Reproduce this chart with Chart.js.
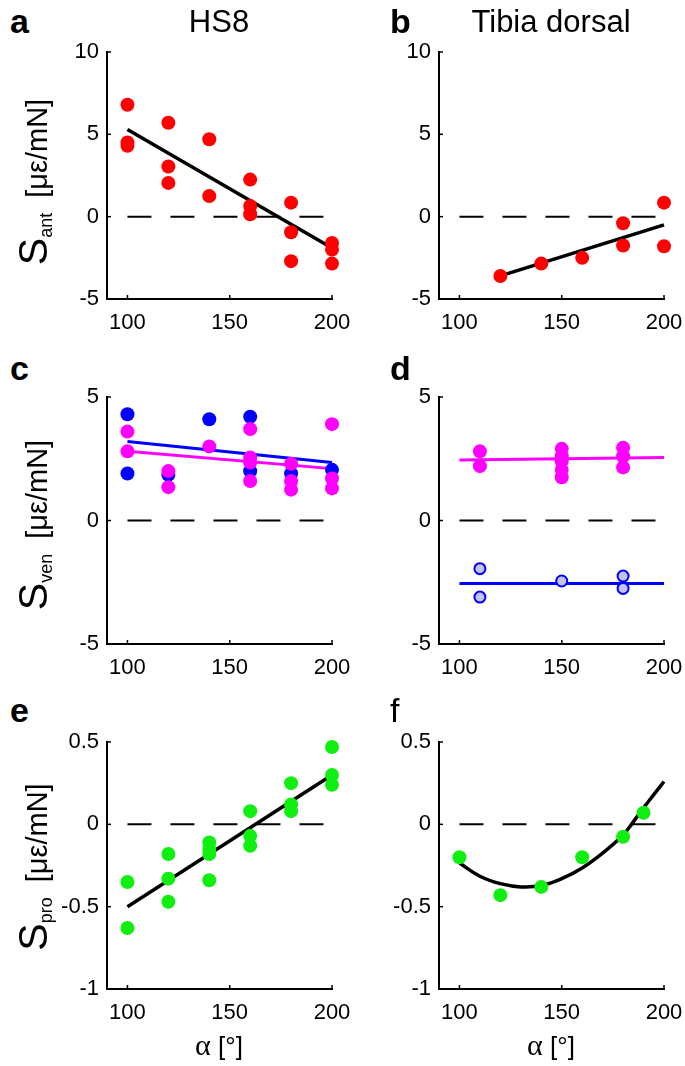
<!DOCTYPE html>
<html>
<head>
<meta charset="utf-8">
<script src="https://cdn.jsdelivr.net/npm/chart.js@4.4.0/dist/chart.umd.min.js"></script>
<style>
  html, body { margin: 0; padding: 0; background: #fff; }
  #fig { position: relative; width: 685px; height: 1066px; overflow: hidden;
         font-family: "Liberation Sans", Arial, Helvetica, sans-serif; color: #000; }
  #fig canvas { position: absolute; }
  .lbl { position: absolute; white-space: nowrap; line-height: 1; }
  .letter { font-weight: bold; font-size: 34px; }
  .ttl { font-size: 31px; width: 300px; text-align: center; }
  .ylab { position: absolute; width: 240px; height: 50px; line-height: 50px; text-align: center;
          white-space: nowrap; transform: rotate(-90deg); font-size: 29px; }
  .ylab .S { font-size: 41px; }
  .ylab .sb { font-size: 18px; vertical-align: -5px; margin-right: 15px; }
  .xlab { font-size: 26px; width: 200px; text-align: center; }
  .xlab .al { font-family: "Liberation Serif", "DejaVu Serif", serif; font-size: 30px; }
</style>
</head>
<body>
<div id="fig"></div>
<script>
// ---- data ----
const xTicks = [100, 150, 200];
const zeroX = [100, 200];
const zeroY = [0, 0];

// a: HS8, S_ant
const aX = [100, 100, 100, 120, 120, 120, 140, 140, 160, 160, 160, 180, 180, 180, 200, 200, 200];
const aY = [6.8, 4.5, 4.3, 5.7, 3.05, 2.05, 4.7, 1.25, 2.25, 0.65, 0.15, 0.85, -0.95, -2.7, -1.6, -2.0, -2.85];
const aFitX = [100, 200];
const aFitY = [5.3, -1.9];

// b: Tibia dorsal, S_ant
const bX = [120, 140, 160, 180, 180, 200, 200];
const bY = [-3.6, -2.85, -2.5, -0.4, -1.75, 0.85, -1.8];
const bFitX = [120, 200];
const bFitY = [-3.6, -0.5];

// c: HS8, S_ven (blue / magenta)
const cBlueX = [100, 100, 120, 140, 160, 160, 180, 200];
const cBlueY = [4.3, 1.9, 1.85, 4.1, 4.2, 2.0, 1.9, 2.05];
const cMagX = [100, 100, 120, 120, 140, 160, 160, 160, 160, 180, 180, 180, 200, 200, 200];
const cMagY = [3.6, 2.8, 2.0, 1.35, 3.0, 3.7, 2.55, 2.35, 1.6, 2.3, 1.6, 1.25, 3.9, 1.7, 1.3];
const cBlueFitY = [3.2, 2.35];
const cMagFitY = [2.8, 2.1];

// d: Tibia dorsal, S_ven
const dMagX = [110, 110, 150, 150, 150, 150, 150, 180, 180, 180];
const dMagY = [2.8, 2.2, 2.9, 2.6, 2.4, 2.05, 1.75, 2.95, 2.6, 2.15];
const dBlueX = [110, 110, 150, 180, 180];
const dBlueY = [-1.95, -3.1, -2.45, -2.25, -2.75];
const dMagFitY = [2.45, 2.55];
const dBlueFitY = [-2.55, -2.55];
const fitX = [100, 200];

// e: HS8, S_pro
const eX = [100, 100, 120, 120, 120, 140, 140, 140, 140, 160, 160, 160, 180, 180, 180, 200, 200, 200];
const eY = [-0.35, -0.63, -0.18, -0.33, -0.47, -0.11, -0.15, -0.18, -0.34, 0.08, -0.07, -0.13, 0.25, 0.12, 0.08, 0.47, 0.3, 0.24];
const eFitY = [-0.5, 0.3];

// f: Tibia dorsal, S_pro
const fX = [100, 120, 140, 160, 180, 190];
const fY = [-0.2, -0.43, -0.38, -0.2, -0.075, 0.07];
const fCurveX = [100, 110, 120, 130, 140, 150, 160, 170, 180, 185, 190, 195, 200];
const fCurveY = [-0.235, -0.315, -0.36, -0.38, -0.372, -0.33, -0.265, -0.175, -0.065, 0.015, 0.1, 0.18, 0.26];

// ---- styling ----
const FONT = '"Liberation Sans", Arial, Helvetica, sans-serif';
const RED = "#ff0000", BLUE = "#0000ff", MAG = "#ff00ff", GREEN = "#11ee11", LAV = "#c4c4f2";
const fig = document.getElementById("fig");
Chart.defaults.font.family = FONT;
Chart.defaults.color = "#000";

const pts = (xs, ys) => xs.map((x, i) => ({ x, y: ys[i] }));
const dots = (xs, ys, color, order) => ({ data: pts(xs, ys), backgroundColor: color, borderWidth: 0, pointRadius: 7, order, clip: false });
const line = (xs, ys, color, w, order) => ({ data: pts(xs, ys), showLine: true, borderColor: color, borderWidth: w, pointRadius: 0, order, clip: false });
const zero = () => ({ data: pts(zeroX, zeroY), showLine: true, borderColor: "#000", borderWidth: 2, borderDash: [24, 19], pointRadius: 0, order: 5 });

// inward tick marks, matlab style
const inTicks = {
  id: "inTicks",
  afterDraw(chart) {
    const { ctx, chartArea: a, scales: { x, y } } = chart;
    ctx.save();
    ctx.strokeStyle = "#000";
    ctx.lineWidth = 1.5;
    x.ticks.forEach((t) => {
      const px = x.getPixelForValue(t.value);
      ctx.beginPath(); ctx.moveTo(px, a.bottom); ctx.lineTo(px, a.bottom - 4); ctx.stroke();
    });
    y.ticks.forEach((t) => {
      const py = y.getPixelForValue(t.value);
      ctx.beginPath(); ctx.moveTo(a.left, py); ctx.lineTo(a.left + 4, py); ctx.stroke();
    });
    ctx.restore();
  },
};

const L = 60, T = 24, R = 32, B = 45, PW = 225, PH = 247;

function panel(left, top, ymin, ymax, step, datasets) {
  const cv = document.createElement("canvas");
  const W = L + PW + R, H = T + PH + B;
  cv.width = W; cv.height = H;
  cv.style.left = left - L + "px"; cv.style.top = top - T + "px";
  cv.style.width = W + "px"; cv.style.height = H + "px";
  fig.appendChild(cv);
  new Chart(cv, {
    type: "scatter",
    data: { datasets },
    options: {
      responsive: false, animation: false, devicePixelRatio: 1, events: [],
      layout: { padding: { top: T, right: R, left: 0, bottom: 0 } },
      plugins: { legend: { display: false }, tooltip: { enabled: false } },
      scales: {
        x: {
          type: "linear", min: 90, max: 200,
          afterBuildTicks: (s) => { s.ticks = xTicks.map((v) => ({ value: v })); },
          afterFit: (s) => { s.height = B; },
          grid: { display: false },
          border: { display: true, color: "#000", width: 2 },
          ticks: { font: { size: 22 }, padding: 3, maxRotation: 0, callback: (v) => String(v) },
        },
        y: {
          min: ymin, max: ymax,
          afterFit: (s) => { s.width = L; },
          grid: { display: false },
          border: { display: true, color: "#000", width: 2 },
          ticks: { font: { size: 22 }, padding: 0, stepSize: step, callback: (v) => String(v) },
        },
      },
    },
    plugins: [inTicks],
  });
}

function text(cls, html, left, top) {
  const d = document.createElement("div");
  d.className = "lbl " + cls;
  d.innerHTML = html;
  d.style.left = left + "px"; d.style.top = top + "px";
  fig.appendChild(d);
  return d;
}

function ylab(cx, cy, sub) {
  const d = document.createElement("div");
  d.className = "ylab";
  d.innerHTML = `<span class="S">S</span><span class="sb">${sub}</span><span>[με/mN]</span>`;
  d.style.left = cx - 120 + "px"; d.style.top = cy - 25 + "px";
  fig.appendChild(d);
}

// ---- panels ----
panel(107, 52, -5, 10, 5, [
  dots(aX, aY, RED, 0),
  line(aFitX, aFitY, "#000", 3.5, 1),
  zero(),
]);
panel(439, 52, -5, 10, 5, [
  dots(bX, bY, RED, 0),
  line(bFitX, bFitY, "#000", 3.5, 1),
  zero(),
]);
panel(107, 397, -5, 5, 5, [
  dots(cMagX, cMagY, MAG, 0),
  dots(cBlueX, cBlueY, BLUE, 1),
  line(fitX, cMagFitY, MAG, 3, 2),
  line(fitX, cBlueFitY, BLUE, 3, 3),
  zero(),
]);
panel(439, 397, -5, 5, 5, [
  dots(dMagX, dMagY, MAG, 0),
  { data: pts(dBlueX, dBlueY), backgroundColor: LAV, borderColor: BLUE, borderWidth: 2, pointRadius: 5.5, order: 0, clip: false },
  line(fitX, dMagFitY, MAG, 3, 2),
  line(fitX, dBlueFitY, BLUE, 3, 2),
  zero(),
]);
panel(107, 742, -1, 0.5, 0.5, [
  dots(eX, eY, GREEN, 0),
  line(fitX, eFitY, "#000", 3.5, 1),
  zero(),
]);
panel(439, 742, -1, 0.5, 0.5, [
  dots(fX, fY, GREEN, 0),
  Object.assign(line(fCurveX, fCurveY, "#000", 3.5, 1), { tension: 0.4 }),
  zero(),
]);

// ---- labels ----
text("letter", "a", 10, 4);
text("letter", "b", 390, 4);
text("letter", "c", 10, 351);
text("letter", "d", 390, 351);
text("letter", "e", 10, 693);
text("letter", "f", 390, 693).style.fontWeight = "normal";

text("ttl", "HS8", 219 - 150, 6);
text("ttl", "Tibia dorsal", 551 - 150, 6);

ylab(33, 182, "ant");
ylab(33, 525, "ven");
ylab(33, 867, "pro");

text("xlab", '<span class="al">α</span> [°]', 219 - 100, 1030);
text("xlab", '<span class="al">α</span> [°]', 551 - 100, 1030);
</script>
</body>
</html>
